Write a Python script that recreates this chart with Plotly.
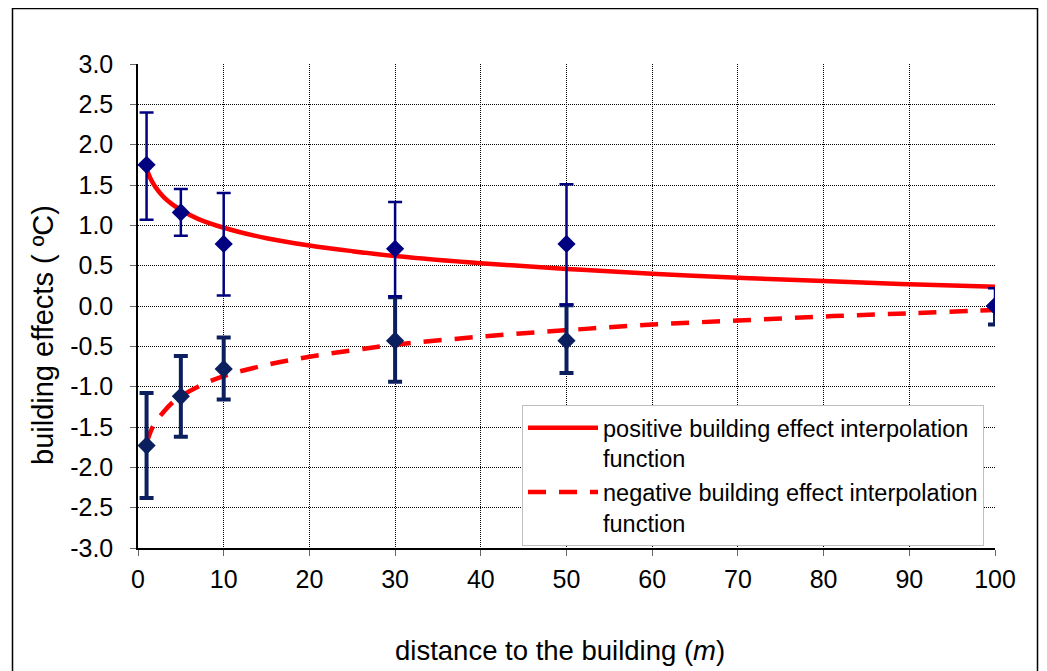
import plotly.graph_objects as go

# ---- measured points (distance in m, building effect in degC) ----
dist = [1, 5, 10, 30, 50, 100]
pos_mean = [1.75, 1.16, 0.77, 0.71, 0.77, 0.0]
pos_err_plus = [0.65, 0.29, 0.63, 0.58, 0.74, 0.22]
pos_err_minus = [0.68, 0.29, 0.64, 0.59, 0.75, 0.0]

neg_mean = [-1.73, -1.12, -0.78, -0.43, -0.43, 0.0]
neg_err_plus = [0.65, 0.50, 0.39, 0.54, 0.44, 0.0]
neg_err_minus = [0.65, 0.50, 0.38, 0.51, 0.40, 0.23]

# ---- interpolation curves ----
curve_x = [1, 1.5, 2, 3, 4, 5, 7, 10, 15, 20, 25, 30, 40, 50, 60, 70, 80, 90, 100]
pos_curve = [1.70, 1.57, 1.48, 1.35, 1.26, 1.19, 1.08, 0.97, 0.84, 0.75, 0.68,
             0.62, 0.53, 0.46, 0.40, 0.35, 0.31, 0.27, 0.24]
neg_curve = [-1.70, -1.55, -1.45, -1.31, -1.20, -1.12, -1.00, -0.87, -0.73, -0.63,
             -0.55, -0.48, -0.38, -0.30, -0.23, -0.18, -0.13, -0.09, -0.05]

x_ticks = list(range(0, 101, 10))
y_ticks = [-3.0, -2.5, -2.0, -1.5, -1.0, -0.5, 0.0, 0.5, 1.0, 1.5, 2.0, 2.5, 3.0]

x_title = "distance to the building (<i>m</i>)"
y_title = "building effects ( ºC)"

FONT = "Liberation Sans, Arial, sans-serif"

fig = go.Figure()

fig.add_trace(go.Scatter(
    x=curve_x, y=pos_curve, mode="lines", line_shape="spline",
    name="positive building effect interpolation<br>function", legendgroup="pos",
    line=dict(color="#FF0000", width=4.5),
))
fig.add_trace(go.Scatter(
    x=curve_x, y=neg_curve, mode="lines", line_shape="spline",
    name="negative building effect interpolation<br>function", legendgroup="neg",
    line=dict(color="#FF0000", width=4.5, dash="18px,13px"),
))

fig.add_trace(go.Scatter(
    x=dist, y=neg_mean, mode="markers", showlegend=False,
    marker=dict(symbol="diamond", size=14, color="#0B1F5E"),
    error_y=dict(type="data", symmetric=False, array=neg_err_plus,
                 arrayminus=neg_err_minus, color="#0B1F5E", thickness=4, width=7),
))
fig.add_trace(go.Scatter(
    x=dist, y=pos_mean, mode="markers", showlegend=False,
    marker=dict(symbol="diamond", size=14, color="#000080"),
    error_y=dict(type="data", symmetric=False, array=pos_err_plus,
                 arrayminus=pos_err_minus, color="#000080", thickness=2.5, width=7),
))

# page body has an 8px margin, so the figure is placed at (8, 8)
OFF = 8
W, H = 1047 - OFF, 671 - OFF
PL, PR, PT, PB = 138, 995, 64, 548          # plot area in page pixels
L, T = PL - OFF, PT - OFF
R = W - (PR - OFF)
B = H - (PB - OFF)
pw, ph = W - L - R, H - T - B


def px(xp):
    return (xp - PL) / pw


def py(yp):
    return (PB - yp) / ph


fig.update_layout(
    width=W, height=H,
    margin=dict(l=L, r=R, t=T, b=B),
    paper_bgcolor="white", plot_bgcolor="white",
    font=dict(family=FONT, size=23, color="black"),
    showlegend=True,
    legend=dict(
        x=px(522), y=py(405), xanchor="left", yanchor="top",
        bgcolor="white", bordercolor="#BFBFBF", borderwidth=1,
        font=dict(family=FONT, size=23.5, color="black"),
        itemwidth=70, valign="top", tracegroupgap=0,
    ),
    shapes=[dict(
        type="rect", xref="paper", yref="paper",
        x0=px(12.5), x1=px(1037.5), y0=py(675), y1=py(8.5),
        line=dict(color="black", width=1.5), fillcolor="rgba(0,0,0,0)",
        layer="below",
    )],
    annotations=[
        dict(text=x_title, xref="paper", yref="paper", x=px(560), y=py(650),
             xanchor="center", yanchor="middle", showarrow=False,
             font=dict(family=FONT, size=27.5, color="black")),
        dict(text=y_title, xref="paper", yref="paper", x=px(43), y=py(335),
             xanchor="center", yanchor="middle", showarrow=False, textangle=-90,
             font=dict(family=FONT, size=29, color="black")),
    ],
)

fig.update_xaxes(
    range=[0, 100], tickvals=x_ticks, ticktext=[str(v) for v in x_ticks],
    showgrid=True, gridcolor="#000000", griddash="1px,1px", gridwidth=1,
    showline=True, linecolor="black", linewidth=1.5, zeroline=False,
    ticks="outside", ticklen=6, tickcolor="#666666", ticklabelstandoff=2,
    tickfont=dict(family=FONT, size=25),
)
fig.update_yaxes(
    range=[-3, 3], tickvals=y_ticks, ticktext=[f"{v:.1f}" for v in y_ticks],
    showgrid=True, gridcolor="#000000", griddash="1px,1px", gridwidth=1,
    showline=True, linecolor="black", linewidth=1.5, zeroline=False,
    ticks="outside", ticklen=6, tickcolor="#666666", ticklabelstandoff=12,
    tickfont=dict(family=FONT, size=25),
)

fig.write_html("out.html")
